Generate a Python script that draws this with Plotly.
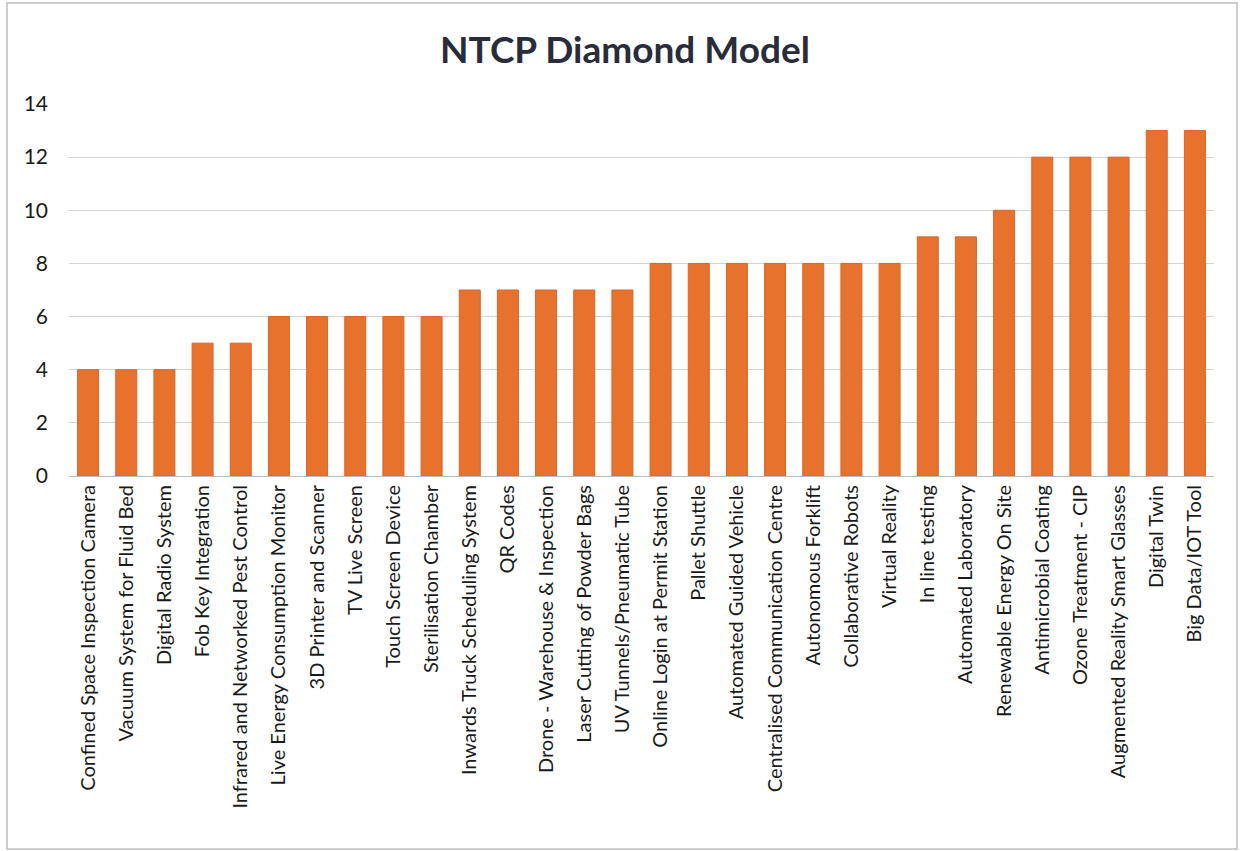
import plotly.graph_objects as go

categories = [
    "Confined Space Inspection Camera", "Vacuum System for Fluid Bed", "Digital Radio System",
    "Fob Key Integration", "Infrared and Networked Pest Control", "Live Energy Consumption Monitor",
    "3D Printer and Scanner", "TV Live Screen", "Touch Screen Device", "Sterilisation Chamber",
    "Inwards Truck Scheduling System", "QR Codes", "Drone - Warehouse & Inspection",
    "Laser Cutting of Powder Bags", "UV Tunnels/Pneumatic Tube", "Online Login at Permit Station",
    "Pallet Shuttle", "Automated Guided Vehicle", "Centralised Communication Centre",
    "Autonomous Forklift", "Collaborative Robots", "Virtual Reality", "In line testing",
    "Automated Laboratory", "Renewable Energy On Site", "Antimicrobial Coating",
    "Ozone Treatment - CIP", "Augmented Reality Smart Glasses", "Digital Twin", "Big Data/IOT Tool",
]
values = [4, 4, 4, 5, 5, 6, 6, 6, 6, 6, 7, 7, 7, 7, 7, 8, 8, 8, 8, 8, 8, 8, 9, 9, 10, 12, 12, 12, 13, 13]
y_ticks = [0, 2, 4, 6, 8, 10, 12, 14]

FONT = "Lato"
fig = go.Figure(go.Bar(
    x=categories, y=values,
    marker=dict(color="#E6722E", line=dict(color="#D9662A", width=1)),
))

W, H = 1242, 851
ml, mr, mt, mb = 69, 28, 104, 375
pw, ph = W - ml - mr, H - mt - mb

def px_x(p):
    return (p - ml) / pw

def px_y(p):
    return (H - mb - p) / ph

fig.update_layout(
    width=W, height=H,
    margin=dict(l=ml, r=mr, t=mt, b=mb),
    paper_bgcolor="white", plot_bgcolor="white",
    bargap=0.45,
    showlegend=False,
    title=dict(text="<b>NTCP Diamond Model</b>", x=625 / W, xref="container", xanchor="center",
               y=1 - 50 / H, yanchor="middle",
               font=dict(family=FONT, size=37, color="#2A2C3A")),
    font=dict(family=FONT, color="#222222"),
    xaxis=dict(tickangle=-90, tickfont=dict(family=FONT, size=20, color="#1A1A1A"),
               showgrid=False, showline=True, linecolor="#BDBDBD", linewidth=1,
               ticks="", ticklen=0),
    yaxis=dict(range=[0, 14], tickvals=y_ticks, tickfont=dict(family=FONT, size=21, color="#1A1A1A"),
               showgrid=True, gridcolor="#D4D4D4", gridwidth=1, zeroline=False,
               showline=False, ticks="", ticklabelstandoff=20),
    shapes=[dict(type="rect", xref="paper", yref="paper",
                 x0=px_x(7), x1=px_x(1237), y0=px_y(849), y1=px_y(3),
                 line=dict(color="#BDBDBD", width=1.5), fillcolor="rgba(0,0,0,0)", layer="below")],
)

fig.write_html("out.html")
